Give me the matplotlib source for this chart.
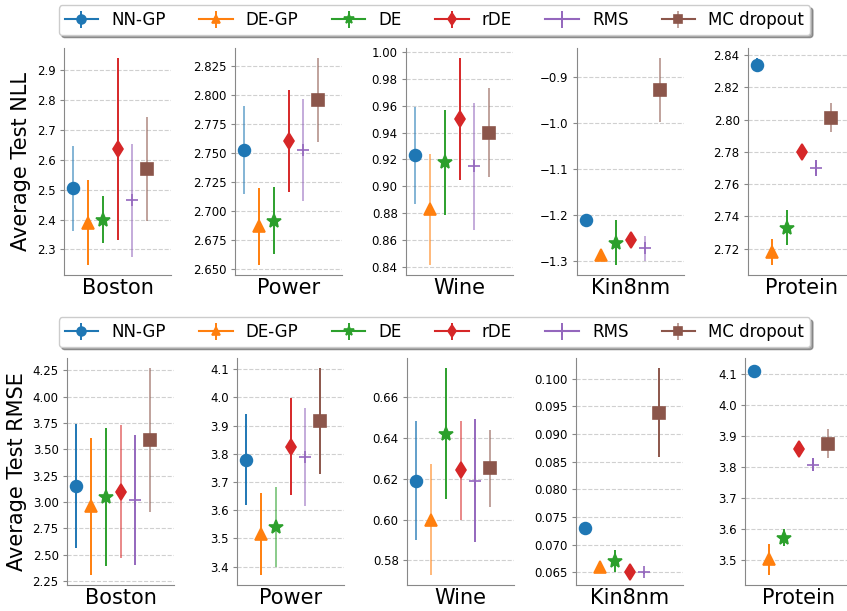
import numpy as np
import matplotlib.pyplot as plt

# methods and datasets
methods = ['NN-GP', 'DE-GP', 'DE', 'rDE', 'RMS', 'MC dropout']
datasets = ['Boston', 'Power', 'Wine', 'Kin8nm', 'Protein']

# average test NLL (mean, std) per dataset, one entry per method
nll_boston = [2.505, 2.390, 2.400, 2.635, 2.465, 2.570]
nll_boston_err = [0.142, 0.141, 0.079, 0.305, 0.189, 0.174]
nll_power = [2.753, 2.687, 2.692, 2.761, 2.753, 2.796]
nll_power_err = [0.038, 0.033, 0.029, 0.044, 0.044, 0.036]
nll_wine = [0.923, 0.883, 0.918, 0.950, 0.915, 0.940]
nll_wine_err = [0.036, 0.041, 0.039, 0.045, 0.047, 0.033]
nll_kin = [-1.212, -1.288, -1.260, -1.255, -1.272, -0.929]
nll_kin_err = [0.004, 0.004, 0.048, 0.006, 0.027, 0.069]
nll_protein = [2.834, 2.718, 2.733, 2.780, 2.770, 2.801]
nll_protein_err = [0.004, 0.008, 0.011, 0.002, 0.005, 0.009]

# average test RMSE (mean, std)
rmse_boston = [3.15, 2.96, 3.05, 3.10, 3.02, 3.59]
rmse_boston_err = [0.59, 0.65, 0.655, 0.63, 0.62, 0.68]
rmse_power = [3.779, 3.516, 3.540, 3.824, 3.789, 3.915]
rmse_power_err = [0.161, 0.145, 0.141, 0.172, 0.175, 0.188]
rmse_wine = [0.619, 0.600, 0.642, 0.624, 0.619, 0.625]
rmse_wine_err = [0.029, 0.027, 0.032, 0.024, 0.030, 0.019]
rmse_kin = [0.0730, 0.0660, 0.0671, 0.0650, 0.0650, 0.0939]
rmse_kin_err = [0.0002, 0.0002, 0.0020, 0.0004, 0.0003, 0.0080]
rmse_protein = [4.108, 3.502, 3.571, 3.858, 3.807, 3.875]
rmse_protein_err = [0.010, 0.050, 0.028, 0.010, 0.022, 0.048]

nll = [(nll_boston, nll_boston_err), (nll_power, nll_power_err),
       (nll_wine, nll_wine_err), (nll_kin, nll_kin_err),
       (nll_protein, nll_protein_err)]
rmse = [(rmse_boston, rmse_boston_err), (rmse_power, rmse_power_err),
        (rmse_wine, rmse_wine_err), (rmse_kin, rmse_kin_err),
        (rmse_protein, rmse_protein_err)]

markers = ['o', '^', '*', 'd', '+', 's']
colors = ['C0', 'C1', 'C2', 'C3', 'C4', 'C5']

# some of the error bars look faded in the original
alpha_nll = [[0.55, 1, 1, 1, 0.55, 0.55],
             [0.55, 1, 1, 1, 0.55, 0.55],
             [0.55, 0.55, 1, 1, 0.55, 0.55],
             [1, 1, 1, 1, 0.55, 0.55],
             [1, 1, 1, 1, 1, 0.55]]
alpha_rmse = [[1, 1, 1, 0.55, 1, 0.55],
              [1, 1, 0.55, 1, 0.55, 1],
              [0.7, 0.55, 1, 0.55, 1, 0.55],
              [1, 1, 1, 1, 1, 1],
              [1, 1, 1, 1, 1, 0.55]]

fig = plt.figure(figsize=(8.47, 6.11), dpi=100)
W, H = 847.0, 611.0


def draw_row(data, alphas, lefts, top, bottom, ylabel):
    axes = []
    handles = []
    for k, (vals, errs) in enumerate(data):
        ax = fig.add_axes([lefts[k] / W, 1 - bottom / H, 107 / W, (bottom - top) / H])
        hs = []
        for i in range(len(methods)):
            ms = 10 if markers[i] == '*' else 8.5
            # '-' only shows up in the legend handle (single point)
            eb = ax.errorbar(i, vals[i], yerr=errs[i], fmt=markers[i] + '-',
                             color=colors[i], ms=ms, elinewidth=1.4, lw=1.5,
                             mew=1.2, capsize=0, label=methods[i])
            for lc in eb[2]:
                lc.set_alpha(alphas[k][i])
            hs.append(eb)
        handles = hs
        ax.set_xlim(-0.6, 6.6)
        ax.set_xticks([])
        ax.set_xlabel(datasets[k], fontsize=15, labelpad=2)
        ax.grid(axis='y', ls='--', color='#d0d0d0', lw=0.8)
        ax.set_axisbelow(True)
        for s in ['top', 'right']:
            ax.spines[s].set_visible(False)
        for s in ['left', 'bottom']:
            ax.spines[s].set_color('#888888')
        ax.tick_params(axis='y', labelsize=8.5, length=3, color='#888888', pad=3)
        if k == 0:
            ax.set_ylabel(ylabel, fontsize=15)
        axes.append(ax)
    return axes, handles


ax_top, h_top = draw_row(nll, alpha_nll, [64, 235, 406, 577, 748], 48, 275,
                         'Average Test NLL')
ax_bot, h_bot = draw_row(rmse, alpha_rmse, [67, 237, 407, 576, 745], 358, 585,
                         'Average Test RMSE')

# fixed ticks as in the original
ax_top[0].set_yticks([2.3, 2.4, 2.5, 2.6, 2.7, 2.8, 2.9])
ax_top[1].set_yticks(np.arange(2.65, 2.826, 0.025))
ax_top[1].yaxis.set_major_formatter(plt.FormatStrFormatter('%.3f'))
ax_top[2].set_yticks(np.arange(0.84, 1.001, 0.02))
ax_top[2].yaxis.set_major_formatter(plt.FormatStrFormatter('%.2f'))
ax_top[3].set_yticks([-1.3, -1.2, -1.1, -1.0, -0.9])
ax_top[4].set_yticks([2.72, 2.74, 2.76, 2.78, 2.80, 2.82, 2.84])
ax_top[4].yaxis.set_major_formatter(plt.FormatStrFormatter('%.2f'))
ax_bot[0].set_yticks(np.arange(2.25, 4.26, 0.25))
ax_bot[0].yaxis.set_major_formatter(plt.FormatStrFormatter('%.2f'))
ax_bot[1].set_yticks(np.arange(3.4, 4.11, 0.1))
ax_bot[1].yaxis.set_major_formatter(plt.FormatStrFormatter('%.1f'))
ax_bot[2].set_yticks([0.58, 0.60, 0.62, 0.64, 0.66])
ax_bot[2].yaxis.set_major_formatter(plt.FormatStrFormatter('%.2f'))
ax_bot[3].set_yticks(np.arange(0.065, 0.1001, 0.005))
ax_bot[3].yaxis.set_major_formatter(plt.FormatStrFormatter('%.3f'))
ax_bot[4].set_yticks([3.5, 3.6, 3.7, 3.8, 3.9, 4.0, 4.1])
ax_bot[4].yaxis.set_major_formatter(plt.FormatStrFormatter('%.1f'))

for hs, yc in [(h_top, 1 - 20 / H), (h_bot, 1 - 332 / H)]:
    fig.legend(hs, methods, loc='center', bbox_to_anchor=(0.513, yc), ncol=6,
               fontsize=12, markerscale=0.75, shadow=True, fancybox=True,
               borderpad=0.35, columnspacing=2.0, handletextpad=0.8)

fig.savefig('out.png', dpi=100)
